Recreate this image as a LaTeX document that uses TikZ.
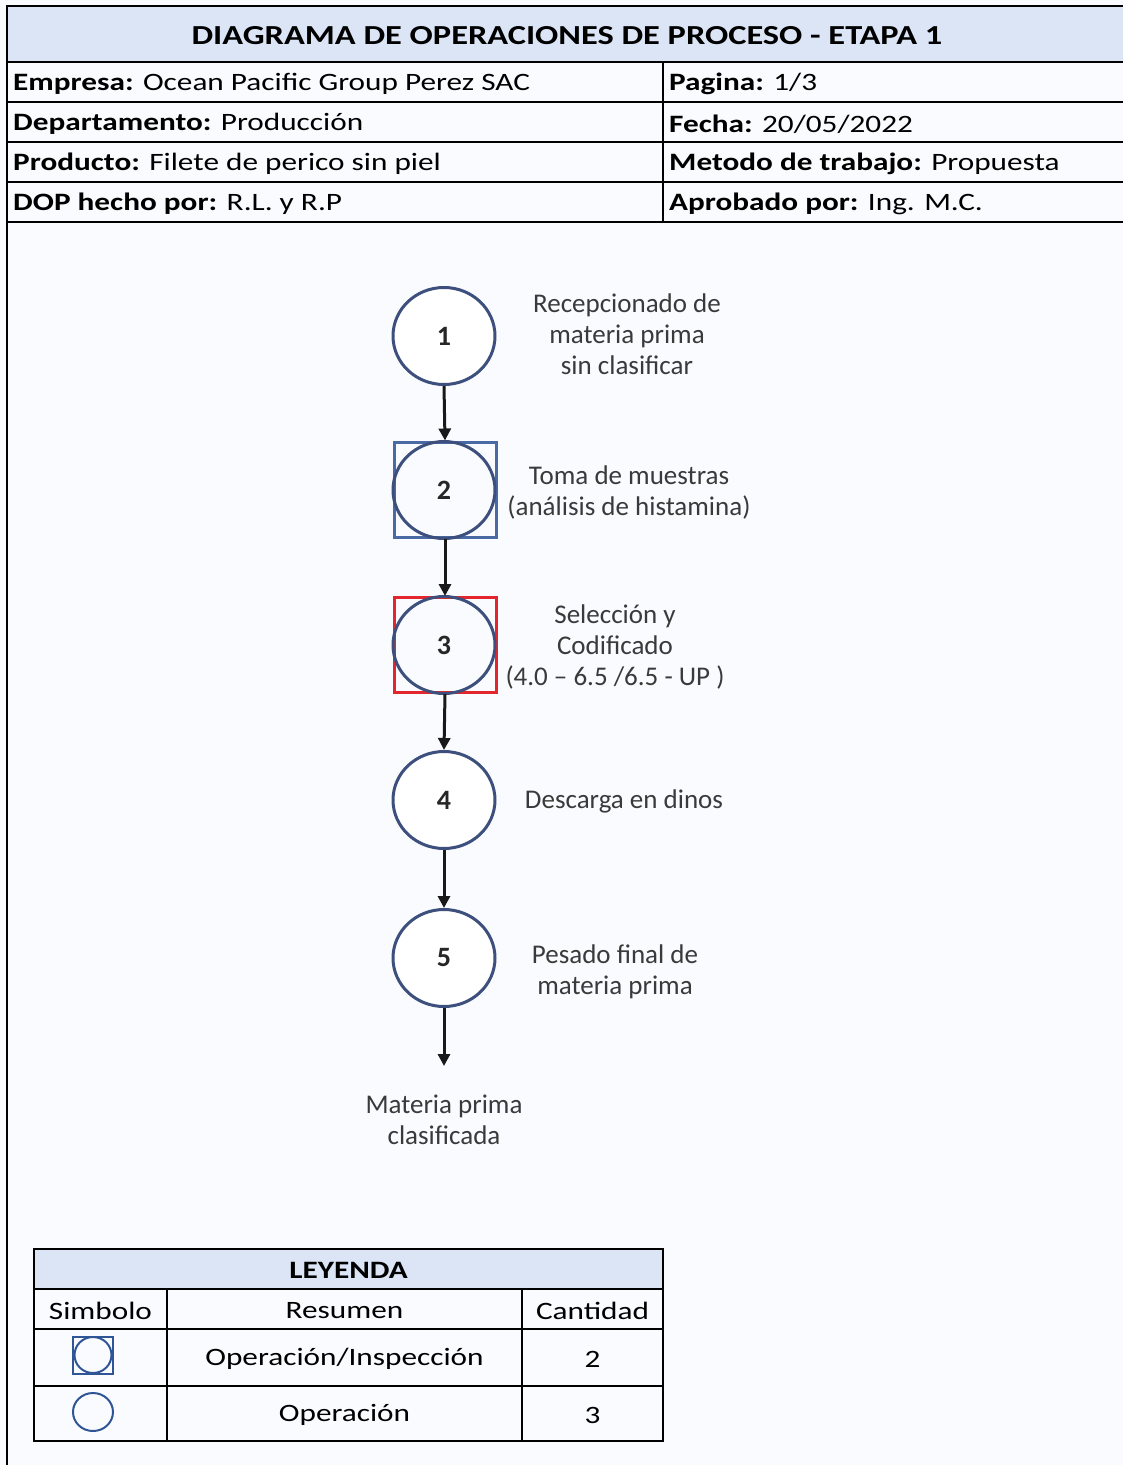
\documentclass[tikz,border=0pt]{standalone}
\usepackage{fontspec}
\setmainfont{Carlito}
\newfontfamily\tabfont{Carlito}[FakeStretch=1.25]
\usetikzlibrary{arrows.meta,shapes.geometric}
\definecolor{bgc}{HTML}{FAFBFE}
\definecolor{headc}{HTML}{DCE5F6}
\definecolor{opc}{HTML}{3D4F7C}
\definecolor{insc}{HTML}{4A6AA6}
\definecolor{selc}{HTML}{E3262E}
\definecolor{labc}{HTML}{3A3A3A}
\definecolor{legc}{HTML}{2F5597}
\tikzset{
  grid/.style={line width=2.5pt, black},
  tabtxt/.style={font=\tabfont\fontsize{25}{30}\selectfont, inner sep=0pt, anchor=west},
  cell/.style={font=\tabfont\fontsize{25}{30}\selectfont, inner sep=0pt},
  opnode/.style={ellipse, draw=opc, line width=3pt, fill=white, inner sep=0pt,
    minimum width=102pt, minimum height=97pt,
    font=\bfseries\fontsize{28}{30}\selectfont, text=black!85},
  sqnode/.style={rectangle, line width=3pt, inner sep=0pt,
    minimum width=102pt, minimum height=95pt},
  flowlab/.style={font=\fontsize{27}{31}\selectfont, text=labc, align=center, inner sep=0pt},
  flowarrow/.style={line width=3pt, black!90, -{Triangle[length=12pt,width=12pt]}},
  legsym/.style={draw=legc, line width=2pt, inner sep=0pt}
}
\begin{document}
\begin{tikzpicture}[x=1pt,y=-1pt]
\useasboundingbox (0,0) rectangle (1123,1465);
\fill[bgc] (0,0) rectangle (1123,1465);

% header block
\fill[headc] (7,6) rectangle (1123,62);
\draw[grid] (1123,6) -- (7,6) -- (7,1465);
\foreach \yy in {62,102,142,182,222} \draw[grid] (7,\yy) -- (1123,\yy);
\draw[grid] (663,62) -- (663,222);
\node[cell, font=\tabfont\bfseries\fontsize{27.5}{30}\selectfont] (title) at (567,36) {DIAGRAMA DE OPERACIONES DE PROCESO - ETAPA 1};
\node[tabtxt] (emp) at (13,84) {\textbf{Empresa:} Ocean Pacific Group Perez SAC};
\node[tabtxt] (dep) at (13,124) {\textbf{Departamento:} Producción};
\node[tabtxt] (prod) at (13,164) {\textbf{Producto:} Filete de perico sin piel};
\node[tabtxt] (dop) at (13,204) {\textbf{DOP hecho por:} R.L. y R.P};
\node[tabtxt] (pag) at (669,84) {\textbf{Pagina:} 1/3};
\node[tabtxt] (fec) at (669,124) {\textbf{Fecha:} 20/05/2022};
\node[tabtxt] (met) at (669,164) {\textbf{Metodo de trabajo:} Propuesta};
\node[tabtxt] (apr) at (669,204) {\textbf{Aprobado por:} Ing. M.C.};

% process flow
\node[sqnode, draw=insc] (q2) at (445,489.5) {};
\node[sqnode, draw=selc] (q3) at (445,645) {};
\node[opnode] (n1) at (444,336) {1};
\node[opnode, fill=none] (n2) at (444,490) {2};
\node[opnode, fill=none] (n3) at (444,645) {3};
\node[opnode] (n4) at (444,800) {4};
\node[opnode] (n5) at (444,958) {5};
\coordinate (endc) at (444,1066);

\draw[flowarrow] (n1.south) -- (q2.north);
\draw[flowarrow] (q2.south) -- (q3.north);
\draw[flowarrow] (q3.south) -- (n4.north);
\draw[flowarrow] (n4.south) -- (n5.north);
\draw[flowarrow] (n5.south) -- (endc);

\node[flowlab] (l1) at (627,334) {Recepcionado de\\materia prima\\sin clasificar};
\node[flowlab] (l2) at (629,492) {Toma de muestras\\(análisis de histamina)};
\node[flowlab] (l3) at (615,647) {Selección y\\Codificado\\(4.0 – 6.5 /6.5 - UP )};
\node[flowlab] (l4) at (624,801) {Descarga en dinos};
\node[flowlab] (l5) at (615,972) {Pesado final de\\materia prima};
\node[flowlab] (fin) at (444,1120) {Materia prima\\clasificada};

% legend
\fill[headc] (34,1249) rectangle (663,1289);
\draw[grid] (34,1249) rectangle (663,1441);
\foreach \yy in {1289,1329,1386} \draw[grid] (34,\yy) -- (663,\yy);
\draw[grid] (167,1289) -- (167,1441);
\draw[grid] (522,1289) -- (522,1441);
\node[cell, font=\tabfont\bfseries\fontsize{25}{30}\selectfont] (ley) at (348.5,1270) {LEYENDA};
\node[cell] (hsim) at (100.5,1311) {Simbolo};
\node[cell] (hres) at (344.5,1311) {Resumen};
\node[cell] (hcan) at (592.5,1311) {Cantidad};
\node[cell] (r1) at (344.5,1359) {Operación/Inspección};
\node[cell] (c1) at (592.5,1359) {2};
\node[cell] (r2) at (344.5,1415) {Operación};
\node[cell] (c2) at (592.5,1415) {3};
\node[legsym, rectangle, minimum width=40pt, minimum height=37pt] (s1) at (93,1355) {};
\node[legsym, ellipse, minimum width=37pt, minimum height=36pt] (s1c) at (93,1355) {};
\node[legsym, ellipse, minimum width=40pt, minimum height=38pt] (s2) at (93,1412) {};
\end{tikzpicture}
\end{document}
